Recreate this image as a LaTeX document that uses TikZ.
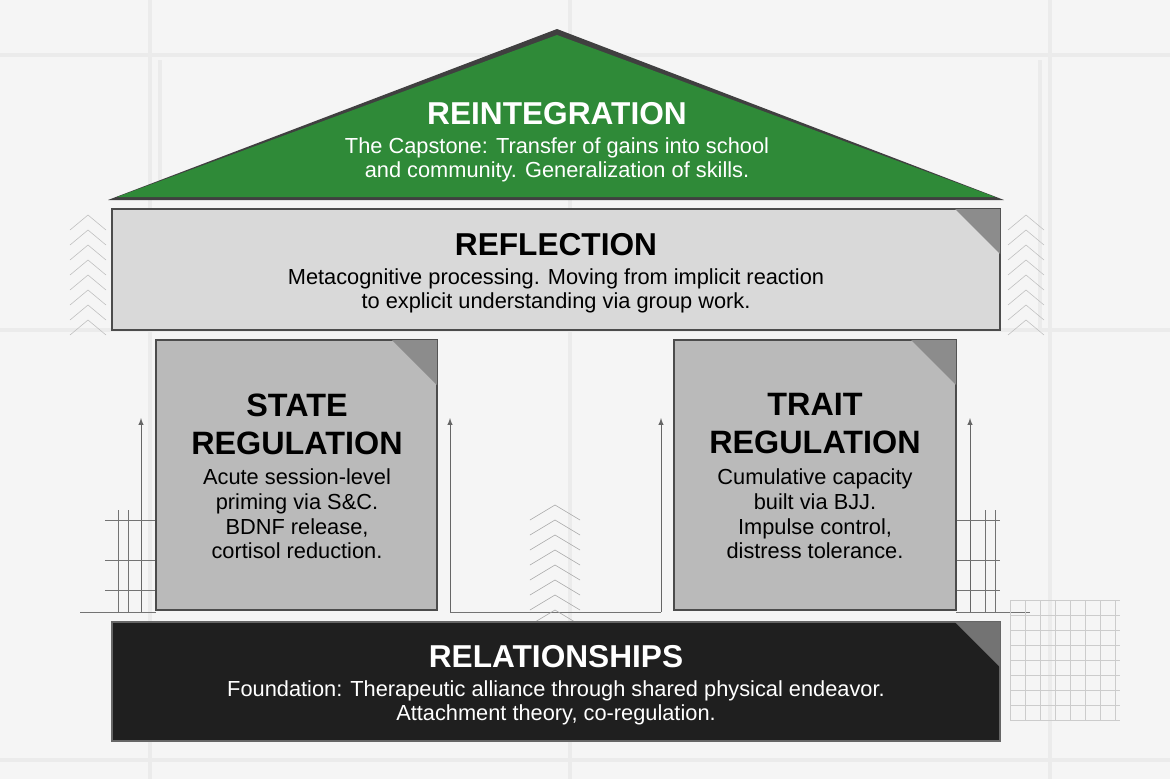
\documentclass[tikz,border=0pt]{standalone}
\usepackage{fontspec}
\setmainfont{Liberation Sans}
\definecolor{roofg}{HTML}{2F8A38}
\begin{document}
\begin{tikzpicture}[x=0.025cm,y=-0.025cm,
  bg/.style={draw=black!8,line width=2.5pt},
  thin/.style={draw=black!55,line width=0.5pt},
  up/.style={draw=black!60,line width=0.7pt,-latex},
  box/.style={draw=black!70,line width=1.2pt},
  ttl/.style={font=\fontsize{22.5}{25}\selectfont\bfseries,align=center},
  txt/.style={font=\fontsize{15.5}{17.5}\selectfont,align=center},
  fold/.style={fill=black!45}]
\fill[white!96!black] (0,0) rectangle (1170,779);
\useasboundingbox (0,0) rectangle (1170,779);
% background grid
\foreach \x in {150,570,1050} \draw[bg] (\x,0) -- (\x,779);
\foreach \y in {55,330,760} \draw[bg] (0,\y) -- (1170,\y);
\draw[bg] (160,60) -- (160,200); \draw[bg] (1040,60) -- (1040,330);
% thin lines and arrows
\coordinate (a1b) at (141,612); \coordinate (a1t) at (141,418);
\coordinate (a2b) at (450,612); \coordinate (a2t) at (450,418);
\coordinate (a3b) at (661,612); \coordinate (a3t) at (661,418);
\coordinate (a4b) at (970,612); \coordinate (a4t) at (970,418);
\draw[up] (a1b) -- (a1t); \draw[up] (a2b) -- (a2t);
\draw[up] (a3b) -- (a3t); \draw[up] (a4b) -- (a4t);
\draw[thin] (450,612) -- (661,612);
\draw[thin] (80,612) -- (156,612); \draw[thin] (956,612) -- (1030,612);
\foreach \y in {520,560,590} {\draw[thin] (105,\y) -- (156,\y); \draw[thin] (956,\y) -- (1000,\y);}
\foreach \x in {118,128} \draw[thin] (\x,510) -- (\x,612);
\foreach \x in {985,995} \draw[thin] (\x,510) -- (\x,612);
% grid bottom right
\foreach \x in {1010,1025,...,1120} \draw[black!20] (\x,600) -- (\x,720);
\foreach \y in {600,615,...,720} \draw[black!20] (1010,\y) -- (1120,\y);
% chevrons
\foreach \y in {505,520,...,610} \draw[black!35] (530,\y+15) -- (555,\y) -- (580,\y+15);
\foreach \y in {215,230,...,320} {\draw[black!25] (70,\y+15) -- (88,\y) -- (106,\y+15);
  \draw[black!25] (1008,\y+15) -- (1026,\y) -- (1044,\y+15);}
% roof
\fill[black!75] (557,29) -- (1004,200) -- (108,200) -- cycle;
\fill[roofg] (557,35) -- (995,197) -- (117,197) -- cycle;
\node[ttl,white] (rt) at (557,114) {REINTEGRATION};
\node[txt,white] (rx) at (557,160) {The Capstone: Transfer of gains into school\\and community. Generalization of skills.};
% reflection
\draw[box,fill=black!15] (112,209) rectangle (1000,330);
\fill[fold] (955,209) -- (1000,209) -- (1000,254) -- cycle;
\node[ttl] (ft) at (556,245) {REFLECTION};
\node[txt] (fx) at (556,291) {Metacognitive processing. Moving from implicit reaction\\to explicit understanding via group work.};
% state
\draw[box,fill=black!27] (156,340) rectangle (437,610);
\fill[fold] (392,340) -- (437,340) -- (437,385) -- cycle;
\node[ttl,font=\fontsize{23}{27}\selectfont\bfseries] (st) at (297,424) {STATE\\REGULATION};
\node[txt] (sx) at (297,514) {Acute session-level\\priming via S\&C.\\BDNF release,\\cortisol reduction.};
% trait
\draw[box,fill=black!27] (674,340) rectangle (956,610);
\fill[fold] (911,340) -- (956,340) -- (956,385) -- cycle;
\node[ttl,font=\fontsize{23}{27}\selectfont\bfseries] (tt) at (815,424) {TRAIT\\REGULATION};
\node[txt] (tx) at (815,514) {Cumulative capacity\\built via BJJ.\\Impulse control,\\distress tolerance.};
% relationships
\draw[box,draw=black!60,fill=black!88] (112,622) rectangle (1000,741);
\fill[black!55] (955,622) -- (1000,622) -- (1000,667) -- cycle;
\node[ttl,white] (lt) at (556,657) {RELATIONSHIPS};
\node[txt,white] (lx) at (556,703) {Foundation: Therapeutic alliance through shared physical endeavor.\\Attachment theory, co-regulation.};
\end{tikzpicture}
\end{document}
